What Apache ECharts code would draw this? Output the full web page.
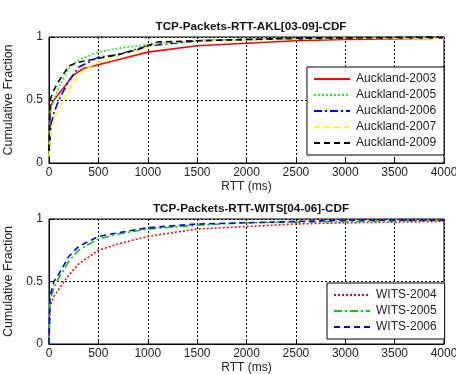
<!DOCTYPE html>
<html>
<head>
<meta charset="utf-8">
<script src="https://cdn.jsdelivr.net/npm/echarts@6/dist/echarts.min.js"></script>
<style>
  html, body { margin: 0; padding: 0; background: #fff; }
  #chart { width: 456px; height: 374px; }
</style>
</head>
<body>
<div id="chart"></div>
<script>
// RTT in ms, value = cumulative fraction
const akl2003 = [[0,0.05],[15,0.45],[50,0.5],[100,0.55],[150,0.6],[250,0.7],[350,0.75],[500,0.78],[700,0.82],[1000,0.88],[1500,0.93],[2000,0.95],[2500,0.97],[3000,0.98],[4000,0.99]];
const akl2005 = [[0,0.05],[10,0.4],[50,0.5],[100,0.6],[200,0.75],[300,0.82],[500,0.88],[700,0.91],[1000,0.94],[1500,0.97],[2000,0.98],[3000,0.99],[4000,1]];
const akl2006 = [[0,0.05],[20,0.3],[50,0.4],[100,0.5],[200,0.65],[300,0.76],[500,0.84],[700,0.86],[1000,0.93],[1500,0.97],[2000,0.98],[3000,0.99],[4000,1]];
const akl2007 = [[0,0.05],[20,0.25],[50,0.35],[100,0.42],[200,0.58],[300,0.7],[400,0.76],[500,0.8],[700,0.85],[1000,0.92],[1100,0.95],[1500,0.97],[2000,0.98],[3000,0.99],[4000,0.99]];
const akl2009 = [[0,0.1],[10,0.5],[50,0.58],[100,0.65],[200,0.77],[300,0.8],[500,0.83],[700,0.86],[900,0.9],[1100,0.96],[1500,0.97],[2500,0.99],[4000,1]];

const wits2004 = [[0,0],[10,0.3],[50,0.38],[100,0.44],[200,0.55],[300,0.64],[500,0.75],[700,0.8],[1000,0.86],[1500,0.92],[2000,0.94],[2500,0.96],[3000,0.97],[4000,0.98]];
const wits2005 = [[0,0],[10,0.35],[50,0.45],[100,0.53],[200,0.66],[300,0.75],[500,0.84],[700,0.88],[1000,0.92],[1500,0.95],[2000,0.97],[3000,0.98],[4000,0.99]];
const wits2006 = [[0,0],[10,0.38],[50,0.5],[100,0.56],[200,0.7],[300,0.78],[500,0.86],[700,0.89],[1000,0.93],[1500,0.96],[2000,0.97],[3000,0.99],[4000,0.99]];

const topNames = ['Auckland-2003', 'Auckland-2005', 'Auckland-2006', 'Auckland-2007', 'Auckland-2009'];
const bottomNames = ['WITS-2004', 'WITS-2005', 'WITS-2006'];
const titles = ['TCP-Packets-RTT-AKL[03-09]-CDF', 'TCP-Packets-RTT-WITS[04-06]-CDF'];

const FONT = 'Liberation Sans, Arial, sans-serif';
const dashDot = [8, 3, 2, 3];

function xAxis(gridIndex) {
  return {
    type: 'value', gridIndex: gridIndex, min: 0, max: 4000, interval: 500,
    name: 'RTT (ms)', nameLocation: 'middle', nameGap: 18,
    nameTextStyle: { fontFamily: FONT, fontSize: 12, color: '#222' },
    axisLine: { lineStyle: { color: '#000' } },
    axisTick: { inside: true, length: 4, lineStyle: { color: '#000' } },
    axisLabel: { fontFamily: FONT, fontSize: 12, color: '#222', margin: 4, formatter: (v) => String(v) },
    splitLine: { lineStyle: { color: '#000', type: [2, 2], width: 1 } }
  };
}
function yAxis(gridIndex) {
  return {
    type: 'value', gridIndex: gridIndex, min: 0, max: 1, interval: 0.5,
    name: 'Cumulative Fraction', nameLocation: 'middle', nameGap: 21,
    nameTextStyle: { fontFamily: FONT, fontSize: 12.5, color: '#222' },
    axisLine: { lineStyle: { color: '#000' } },
    axisTick: { inside: true, length: 4, lineStyle: { color: '#000' } },
    axisLabel: { fontFamily: FONT, fontSize: 12, color: '#222', margin: 6 },
    splitLine: { lineStyle: { color: '#000', type: [2, 2], width: 1 } }
  };
}
function line(name, data, color, type, idx) {
  return {
    name: name, type: 'line', data: data, xAxisIndex: idx, yAxisIndex: idx,
    symbol: 'none', smooth: false,
    lineStyle: { color: color, width: 1.6, type: type },
    itemStyle: { color: color }
  };
}
function legend(names, left, top) {
  return {
    data: names, orient: 'vertical', left: left, top: top,
    backgroundColor: '#fff', borderColor: '#000', borderWidth: 1,
    padding: [6, 8, 6, 6], itemGap: 4, itemWidth: 36, itemHeight: 13,
    itemStyle: { opacity: 0 },
    textStyle: { fontFamily: FONT, fontSize: 12, color: '#222', padding: [0, 0, 0, 1] }
  };
}

const chart = echarts.init(document.getElementById('chart'), null, { renderer: 'canvas' });
chart.setOption({
  backgroundColor: '#fff',
  animation: false,
  title: [
    { text: titles[0], left: 246, top: 16, textAlign: 'center',
      textStyle: { fontFamily: FONT, fontSize: 11.7, fontWeight: 'bold', color: '#111' } },
    { text: titles[1], left: 246, top: 198, textAlign: 'center',
      textStyle: { fontFamily: FONT, fontSize: 11.7, fontWeight: 'bold', color: '#111' } }
  ],
  grid: [
    { left: 49, top: 37, width: 395, height: 126, show: true, borderColor: '#000', borderWidth: 1,
      backgroundColor: '#fff', outerBoundsMode: 'none', containLabel: false },
    { left: 49, top: 219, width: 395, height: 125, show: true, borderColor: '#000', borderWidth: 1,
      backgroundColor: '#fff', outerBoundsMode: 'none', containLabel: false }
  ],
  xAxis: [xAxis(0), xAxis(1)],
  yAxis: [yAxis(0), yAxis(1)],
  legend: [legend(topNames, 307, 67), legend(bottomNames, 327, 283)],
  series: [
    line(topNames[0], akl2003, '#ff0000', 'solid', 0),
    line(topNames[1], akl2005, '#00ff00', [2, 2], 0),
    line(topNames[2], akl2006, '#0000ff', dashDot, 0),
    line(topNames[3], akl2007, '#ffff00', [6, 4], 0),
    line(topNames[4], akl2009, '#000000', [6, 4], 0),
    line(bottomNames[0], wits2004, '#ff0000', [2, 2], 1),
    line(bottomNames[1], wits2005, '#00cc00', dashDot, 1),
    line(bottomNames[2], wits2006, '#0000ff', [6, 4], 1)
  ]
});
</script>
</body>
</html>
